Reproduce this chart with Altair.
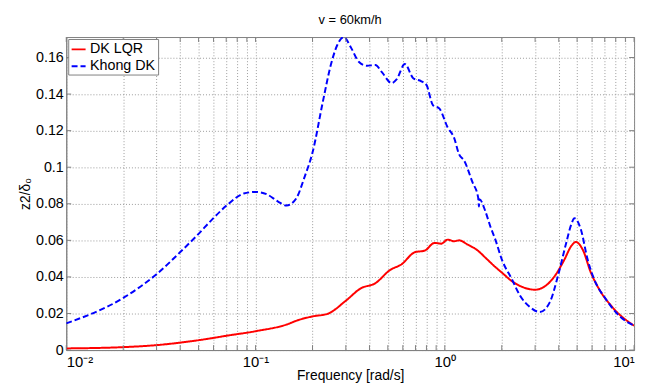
import altair as alt
import pandas as pd

# Series: DK LQR (red, solid)
lqr_freq = [0.01, 0.02, 0.03, 0.05, 0.0604, 0.07, 0.1, 0.15, 0.164, 0.2, 0.24, 0.30,
            0.359, 0.43, 0.514, 0.591, 0.694, 0.783, 0.883, 0.957, 1.036, 1.122, 1.19,
            1.32, 1.486, 1.64, 1.81, 2.0, 2.31, 2.60, 2.99, 3.37, 3.81, 4.29, 4.65,
            4.93, 5.35, 5.91, 6.53, 7.67, 10.0]
lqr_val = [0.0009, 0.0016, 0.0027, 0.0054, 0.0067, 0.0078, 0.0103, 0.0144, 0.0160,
           0.0184, 0.0198, 0.027, 0.0337, 0.0366, 0.0438, 0.0469, 0.0535, 0.0544,
           0.0586, 0.0582, 0.0604, 0.0595, 0.0600, 0.0577, 0.0546, 0.0505, 0.0463,
           0.0424, 0.037, 0.0343, 0.033, 0.0348, 0.0405, 0.0496, 0.0568, 0.0591,
           0.055, 0.0424, 0.0334, 0.0235, 0.0133]

# Series: Khong DK (blue, dashed)
kdk_freq = [0.01, 0.02, 0.03, 0.0404, 0.0494, 0.0592, 0.0708, 0.0866, 0.0996, 0.1146,
            0.132, 0.1457, 0.164, 0.1815, 0.2, 0.227, 0.25, 0.27, 0.293, 0.318, 0.351,
            0.388, 0.43, 0.465, 0.524, 0.556, 0.615, 0.681, 0.752, 0.80, 0.865, 0.937,
            1.036, 1.12, 1.19, 1.265, 1.40, 1.50, 1.515, 1.525, 1.64, 1.74, 1.85, 2.0,
            2.26, 2.50, 2.82, 3.18, 3.59, 3.96, 4.38, 4.65, 4.84, 5.24, 5.68, 6.15,
            7.08, 8.31, 10.0]
kdk_val = [0.0146, 0.0285, 0.0415, 0.054, 0.063, 0.0716, 0.0793, 0.0856, 0.0865,
           0.0852, 0.0811, 0.079, 0.0829, 0.0946, 0.108, 0.136, 0.156, 0.1667, 0.1712,
           0.1658, 0.1577, 0.1555, 0.1559, 0.152, 0.146, 0.148, 0.1564, 0.1487, 0.147,
           0.145, 0.134, 0.132, 0.1217, 0.116, 0.107, 0.1036, 0.0918, 0.0835, 0.0785,
           0.0825, 0.0757, 0.0676, 0.0604, 0.0496, 0.0388, 0.0297, 0.0235, 0.0208,
           0.0262, 0.0405, 0.0586, 0.0685, 0.0721, 0.0658, 0.0496, 0.0388, 0.028,
           0.0189, 0.0133]

series_names = ["DK LQR", "Khong DK"]
series_colors = ["#ff0000", "#0000ff"]

x_ticks = [round(m * 10 ** e, 6) for e in (-2, -1, 0) for m in range(1, 10)] + [10.0]
y_ticks = [0, 0.02, 0.04, 0.06, 0.08, 0.1, 0.12, 0.14, 0.16]

rows = []
for f, v in zip(lqr_freq, lqr_val):
    rows.append({"freq": f, "val": v, "series": series_names[0]})
for f, v in zip(kdk_freq, kdk_val):
    rows.append({"freq": f, "val": v, "series": series_names[1]})
df = pd.DataFrame(rows)
xt_df = pd.DataFrame({"freq": x_ticks})
yt_df = pd.DataFrame({"val": y_ticks})

label_expr = ("datum.value == 0.01 ? '10⁻²' : datum.value == 0.1 ? '10⁻¹' : "
              "datum.value == 1 ? '10⁰' : datum.value == 10 ? '10¹' : ''")

FONT = "Liberation Sans"
W, H = 575, 317
TICK = 5
FRAME = "#808080"

x_scale = alt.Scale(type="log", domain=[0.01, 10], nice=False)
y_scale = alt.Scale(domain=[0, 0.1712], nice=False, zero=True)

x_axis = alt.Axis(title="Frequency [rad/s]", values=x_ticks, labelExpr=label_expr,
                  labelOverlap=False, labelBound=False, ticks=False,
                  labelFont=FONT, labelFontSize=15, labelColor="#000000",
                  titleFont=FONT, titleFontSize=14, titleColor="#000000",
                  titleFontWeight="normal",
                  titleBaseline="alphabetic", titleY=30,
                  labelPadding=5)
y_axis = alt.Axis(title="z2/δ₀", values=y_ticks, format="~g", ticks=False,
                  labelOverlap=False,
                  labelFont=FONT, labelFontSize=14.5, labelColor="#000000",
                  titleFont=FONT, titleFontSize=14, titleColor="#000000",
                  titleFontWeight="normal",
                  labelPadding=3, titlePadding=3)

lines = alt.Chart(df).mark_line(strokeWidth=2, interpolate="monotone", clip=True).encode(
    x=alt.X("freq:Q", scale=x_scale, axis=x_axis),
    y=alt.Y("val:Q", scale=y_scale, axis=y_axis),
    color=alt.Color("series:N",
                    scale=alt.Scale(domain=series_names, range=series_colors),
                    legend=alt.Legend(title=None, labelFont=FONT, labelFontSize=14.5,
                                      labelColor="#000000")),
    strokeDash=alt.StrokeDash("series:N",
                              scale=alt.Scale(domain=series_names, range=[[1, 0], [6, 3]]),
                              legend=alt.Legend(title=None, labelFont=FONT,
                                                labelFontSize=14.5, labelColor="#000000")),
)

xt_bottom = alt.Chart(xt_df).mark_rule(color=FRAME, strokeWidth=1).encode(
    x=alt.X("freq:Q", scale=x_scale, axis=x_axis),
    y=alt.value(H), y2=alt.value(H - TICK))
xt_top = alt.Chart(xt_df).mark_rule(color=FRAME, strokeWidth=1).encode(
    x=alt.X("freq:Q", scale=x_scale, axis=x_axis),
    y=alt.value(0), y2=alt.value(TICK))
yt_left = alt.Chart(yt_df).mark_rule(color=FRAME, strokeWidth=1).encode(
    y=alt.Y("val:Q", scale=y_scale, axis=y_axis),
    x=alt.value(0), x2=alt.value(TICK))
yt_right = alt.Chart(yt_df).mark_rule(color=FRAME, strokeWidth=1).encode(
    y=alt.Y("val:Q", scale=y_scale, axis=y_axis),
    x=alt.value(W), x2=alt.value(W - TICK))

chart = alt.layer(lines, xt_bottom, xt_top, yt_left, yt_right).properties(
    width=W,
    height=H,
    title=alt.TitleParams("v = 60km/h", fontSize=13, fontWeight="normal",
                          font=FONT, color="#000000", offset=10),
    autosize=alt.AutoSizeParams(type="none"),
    padding={"left": 59, "top": 27, "right": 6, "bottom": 34},
).configure_view(
    stroke=FRAME, strokeWidth=1
).configure_axis(
    grid=True, gridColor="#9a9a9a", gridDash=[1, 2], gridWidth=1,
    domainColor=FRAME,
).configure_legend(
    orient="top-left", offset=2, padding=2,
    strokeColor=FRAME, fillColor="#ffffff",
    symbolType="stroke", symbolSize=200, symbolStrokeWidth=2,
    labelOffset=3, rowPadding=2,
)

chart.save("out.html", embed_options={"renderer": "svg", "actions": False})
